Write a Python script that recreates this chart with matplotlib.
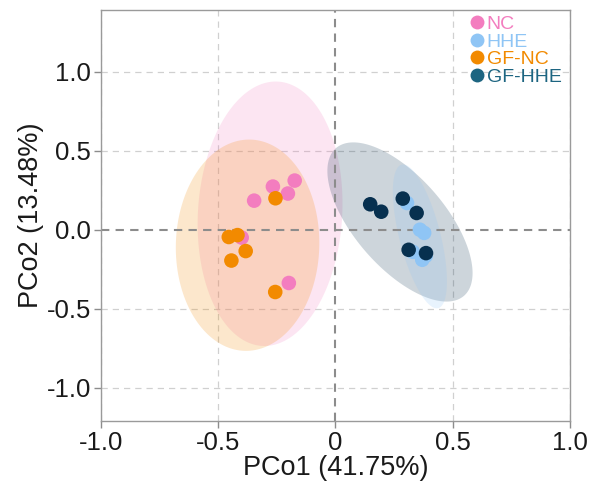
import numpy as np
import matplotlib
matplotlib.use('Agg')
import matplotlib.pyplot as plt
from matplotlib.lines import Line2D

plt.rcParams['font.family'] = ['Liberation Sans', 'DejaVu Sans']

# 分組與顏色
groups = ['NC', 'HHE', 'GF-NC', 'GF-HHE']
point_colors = ['#F37DBF', '#8FC5F5', '#F28A00', '#07304F']
legend_colors = ['#F37DBF', '#8FC5F5', '#F28A00', '#1D6581']

# 各組樣本座標 (PCo1, PCo2)
nc_x = [-0.347, -0.267, -0.203, -0.174, -0.400, -0.199]
nc_y = [0.184, 0.273, 0.229, 0.311, -0.050, -0.337]
hhe_x = [0.305, 0.360, 0.378, 0.330, 0.370, 0.385]
hhe_y = [0.169, 0.000, -0.020, -0.140, -0.190, -0.165]
gfnc_x = [-0.256, -0.455, -0.418, -0.383, -0.444, -0.257]
gfnc_y = [0.199, -0.046, -0.034, -0.135, -0.195, -0.394]
gfhhe_x = [0.148, 0.195, 0.287, 0.346, 0.312, 0.386]
gfhhe_y = [0.161, 0.114, 0.197, 0.106, -0.127, -0.148]

# 置信橢圓: 中心, 兩個半軸向量 (資料座標)
ell_cx = [-0.279, 0.360, -0.375, 0.275]
ell_cy = [0.101, -0.042, -0.098, 0.049]
ell_u = [(0.034, 0.836), (-0.078, 0.454), (-0.003, 0.668), (0.273, -0.467)]
ell_v = [(0.307, -0.027), (0.085, 0.032), (0.306, 0.021), (-0.146, -0.188)]

xs = [nc_x, hhe_x, gfnc_x, gfhhe_x]
ys = [nc_y, hhe_y, gfnc_y, gfhhe_y]

fig = plt.figure(figsize=(5.89, 4.88), dpi=100)
ax = fig.add_axes([0.1715, 0.1373, 0.7962, 0.8422])

# 繪製橢圓
t = np.linspace(0, 2 * np.pi, 300)
draw_order = [0, 2, 3, 1]
for i in draw_order:
    ux, uy = ell_u[i]
    vx, vy = ell_v[i]
    ex = ell_cx[i] + ux * np.cos(t) + vx * np.sin(t)
    ey = ell_cy[i] + uy * np.cos(t) + vy * np.sin(t)
    ax.fill(ex, ey, color=point_colors[i], alpha=0.2, lw=0, zorder=1)

# 網格線
for v in [-1.0, -0.5, 0.5, 1.0]:
    ax.axvline(v, color='#d0d0d0', lw=0.9, ls=(0, (5, 4)), zorder=0.5)
    ax.axhline(v, color='#d0d0d0', lw=0.9, ls=(0, (5, 4)), zorder=0.5)
ax.axvline(0, color='#8c8c8c', lw=1.5, ls=(0, (4, 3)), zorder=2)
ax.axhline(0, color='#8c8c8c', lw=1.5, ls=(0, (4, 3)), zorder=2)

# 散點
for i in [0, 2, 1, 3]:
    ax.scatter(xs[i], ys[i], s=110, color=point_colors[i], edgecolors='none', zorder=3)

ax.set_xlim(-1.0, 1.0)
ax.set_ylim(-1.21, 1.39)
ax.set_xticks([-1.0, -0.5, 0, 0.5, 1.0])
ax.set_xticklabels(['-1.0', '-0.5', '0', '0.5', '1.0'])
ax.set_yticks([-1.0, -0.5, 0, 0.5, 1.0])
ax.set_yticklabels(['-1.0', '-0.5', '0.0', '0.5', '1.0'])
ax.tick_params(axis='both', labelsize=18.5, length=5, width=1, color='#8c8c8c',
               labelcolor='#1a1a1a', pad=2)
for sp in ax.spines.values():
    sp.set_color('#9a9a9a')
    sp.set_linewidth(1.0)

ax.set_xlabel('PCo1 (41.75%)', fontsize=19.5, color='#1a1a1a', labelpad=0)
ax.set_ylabel('PCo2 (13.48%)', fontsize=19.5, color='#1a1a1a', labelpad=2)

# 圖例
handles = [Line2D([], [], marker='o', ls='none', markersize=10,
                  markerfacecolor=c, markeredgecolor='none') for c in legend_colors]
leg = ax.legend(handles, groups, loc='upper right', bbox_to_anchor=(1.011, 1.02),
                frameon=False, fontsize=14, handletextpad=0.05, labelspacing=0.0,
                handlelength=0.9, borderaxespad=0.3)
for txt, c in zip(leg.get_texts(), legend_colors):
    txt.set_color(c)

fig.savefig('out.png', dpi=100)
plt.close(fig)
